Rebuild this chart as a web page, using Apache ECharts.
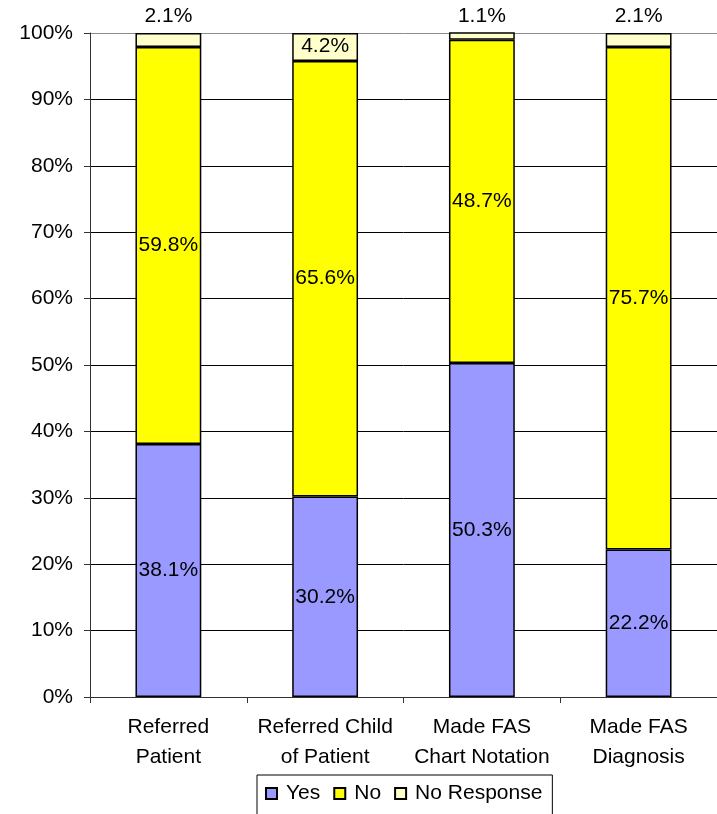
<!DOCTYPE html>
<html><head><meta charset="utf-8">
<script src="https://cdn.jsdelivr.net/npm/echarts@6/dist/echarts.min.js"></script>
<style>html,body{margin:0;padding:0;background:#fff}#c{width:717px;height:814px}</style>
</head><body><div id="c"></div>
<script>
const categories = ['Referred\nPatient', 'Referred Child\nof Patient', 'Made FAS\nChart Notation', 'Made FAS\nDiagnosis'];
const yesValues = [38.1, 30.2, 50.3, 22.2];
const noValues = [59.8, 65.6, 48.7, 75.7];
const noResponseValues = [2.1, 4.2, 1.1, 2.1];
const noResponseLabelOutside = [true, false, true, true];

const font = 'Liberation Sans, Arial, sans-serif';
const chart = echarts.init(document.getElementById('c'), null, {renderer: 'canvas'});
const fmt = p => p.value.toFixed(1) + '%';
const border = {borderColor: '#000', borderWidth: 1.5};
const gridColors = ['#000','#000','#000','#000','#000','#000','#000','#000','#000','#000','#8c8c8c'];

chart.setOption({
  animation: false,
  textStyle: {fontFamily: font},
  grid: {left: 90, top: 33, width: 634, height: 664},
  legend: {
    left: 257, top: 775,
    icon: 'rect', itemWidth: 11, itemHeight: 11, itemGap: 13,
    padding: [8, 10, 30, 8],
    borderColor: '#000', borderWidth: 1,
    textStyle: {fontSize: 21, color: '#000', fontFamily: font, padding: [0, 0, 0, 4]},
    data: ['Yes', 'No', 'No Response']
  },
  xAxis: {
    type: 'category', data: categories,
    axisLine: {lineStyle: {color: '#333', width: 1}},
    axisTick: {show: true, length: 6, lineStyle: {color: '#333'}},
    axisLabel: {color: '#000', fontSize: 21, lineHeight: 30, margin: 15, fontFamily: font, interval: 0}
  },
  yAxis: {
    type: 'value', min: 0, max: 100, interval: 10,
    axisLine: {show: true, lineStyle: {color: '#333', width: 1}},
    axisTick: {show: true, length: 6, lineStyle: {color: '#333'}},
    axisLabel: {color: '#000', fontSize: 21, margin: 17, formatter: '{value}%', fontFamily: font},
    splitLine: {show: true, lineStyle: {color: gridColors, width: 1}}
  },
  series: [
    {name: 'Yes', type: 'bar', stack: 'a', data: yesValues, barCategoryGap: '58%',
      itemStyle: Object.assign({color: '#9999ff'}, border),
      label: {show: true, position: 'inside', formatter: fmt, color: '#000', fontSize: 21, fontFamily: font}},
    {name: 'No', type: 'bar', stack: 'a', data: noValues,
      itemStyle: Object.assign({color: '#ffff00'}, border),
      label: {show: true, position: 'inside', formatter: fmt, color: '#000', fontSize: 21, fontFamily: font}},
    {name: 'No Response', type: 'bar', stack: 'a',
      data: noResponseValues.map((v, i) => ({
        value: v,
        label: noResponseLabelOutside[i] ? {position: 'top', distance: 6} : {position: 'inside', offset: [0, -1]}
      })),
      itemStyle: Object.assign({color: '#ffffcc'}, border),
      label: {show: true, formatter: fmt, color: '#000', fontSize: 21, fontFamily: font}}
  ]
});
</script></body></html>
